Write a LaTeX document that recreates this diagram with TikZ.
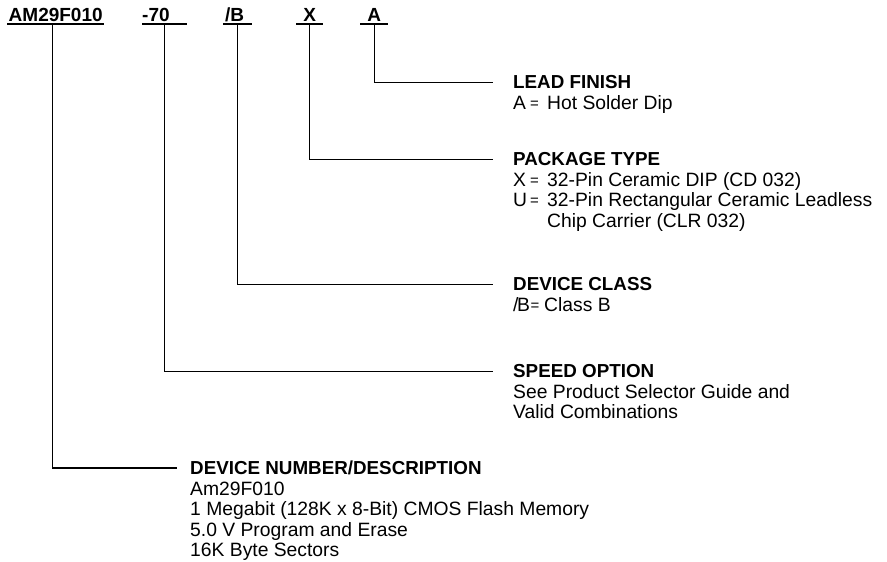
\documentclass[tikz,border=0pt]{standalone}
\usepackage{fontspec}
\setmainfont{Liberation Sans}
\newcommand{\bodyfnt}{\fontsize{19.3}{20.5}\selectfont}
\newcommand{\headfnt}{\fontsize{18.8}{20.5}\selectfont\bfseries}
\newcommand{\lblfnt}{\fontsize{19}{20}\selectfont\bfseries}
\newcommand{\eqs}{\raisebox{1pt}{\fontsize{15}{15}\selectfont=}}
\begin{document}
\begin{tikzpicture}[x=1pt,y=-1pt,
  lbl/.style={font=\lblfnt, inner xsep=0pt, inner ysep=2.3pt, text depth=0pt, anchor=south west},
  head/.style={font=\headfnt, inner sep=0pt, anchor=base west},
  body/.style={font=\bodyfnt, inner sep=0pt, anchor=base west},
  uline/.style={line width=1.3pt},
  link/.style={line width=1.3pt}]
\fill[white] (0,0) rectangle (887,562);
\useasboundingbox (0,0) rectangle (887,562);

% top code labels
\node[lbl] (tAM) at (7,24)   {\makebox[97pt][c]{AM29F010}};
\node[lbl] (t70) at (142,24) {\makebox[45pt][l]{-70}};
\node[lbl] (tB)  at (223,24) {\makebox[29pt][l]{\hspace*{2pt}/B}};
\node[lbl] (tX)  at (296,24) {\makebox[27pt][c]{X}};
\node[lbl] (tA)  at (360,24) {\makebox[28pt][c]{A}};
\foreach \n in {tAM,t70,tB,tX,tA}
  \draw[uline] (\n.south west) -- (\n.south east);

% LEAD FINISH
\node[head] (hA) at (513,88.7) {LEAD FINISH};
\node[body] (bA1) at (513,109.2) {\makebox[17pt][l]{A}\makebox[17pt][l]{\eqs}Hot Solder Dip};

% PACKAGE TYPE
\node[head] (hX) at (513,165.7) {PACKAGE TYPE};
\node[body] (bX1) at (513,186.2) {\makebox[17pt][l]{X}\makebox[17pt][l]{\eqs}32-Pin Ceramic DIP (CD 032)};
\node[body] (bX2) at (513,206.7) {\makebox[17pt][l]{U}\makebox[17pt][l]{\eqs}32-Pin Rectangular Ceramic Leadless};
\node[body] (bX3) at (513,227.2) {\hspace*{34pt}Chip Carrier (CLR 032)};

% DEVICE CLASS
\node[head] (hB) at (513,290.7) {DEVICE CLASS};
\node[body] (bB1) at (513,311.2) {\makebox[17.5pt][l]{/\kern-1.5pt B}\makebox[13.5pt][l]{\eqs}Class B};

% SPEED OPTION
\node[head] (h70) at (513,377.7) {SPEED OPTION};
\node[body] (b701) at (513,398.2) {See Product Selector Guide and};
\node[body] (b702) at (513,418.7) {Valid Combinations};

% DEVICE NUMBER/DESCRIPTION
\node[head] (hAM) at (190,474.7) {DEVICE NUMBER/DESCRIPTION};
\node[body] (bAM1) at (190,495.2) {Am29F010};
\node[body] (bAM2) at (190,515.7) {1 Megabit (128K x 8-Bit) CMOS Flash Memory};
\node[body] (bAM3) at (190,536.2) {5.0 V Program and Erase};
\node[body] (bAM4) at (190,556.7) {16K Byte Sectors};

% connectors
\draw[link] (tA.south)  |- ([xshift=-20pt]hA.west);
\draw[link] (tX.south)  |- ([xshift=-20pt]hX.west);
\draw[link] (tB.south)  |- ([xshift=-20pt]hB.west);
\draw[link] (t70.south) |- ([xshift=-20pt]h70.west);
\draw[link] ([xshift=-3pt]tAM.south) |- ([xshift=-13pt]hAM.west);
\end{tikzpicture}
\end{document}
